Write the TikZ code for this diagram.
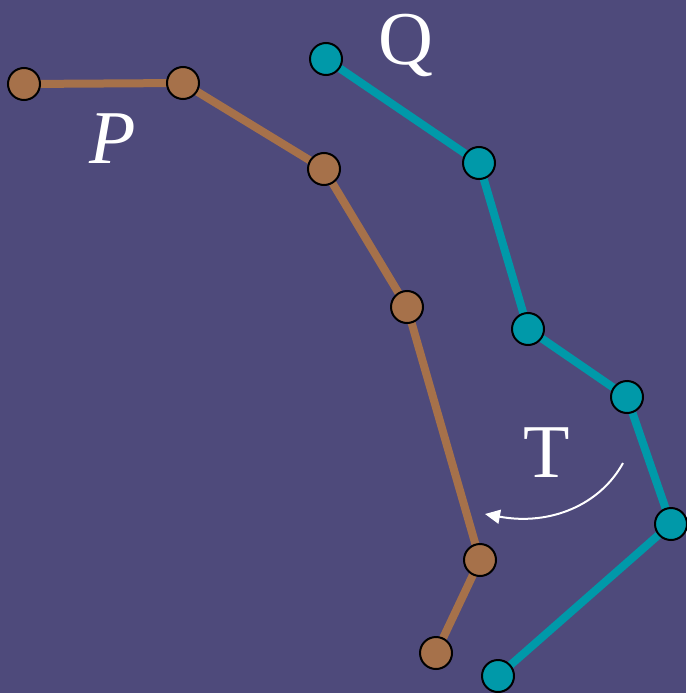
\documentclass[tikz,border=0pt]{standalone}
\usepackage{fontspec}
\setmainfont{Liberation Serif}
\usetikzlibrary{arrows.meta}
\definecolor{bg}{HTML}{4E4A7B}
\definecolor{brownc}{HTML}{A6714A}
\definecolor{tealc}{HTML}{0099A9}
\tikzset{
  pnode/.style={circle,draw=black,line width=2pt,fill=brownc,minimum size=32pt,inner sep=0pt},
  qnode/.style={circle,draw=black,line width=2pt,fill=tealc,minimum size=32pt,inner sep=0pt},
  pline/.style={draw=brownc,line width=8pt},
  qline/.style={draw=tealc,line width=8pt},
  lbl/.style={text=white,font=\fontsize{76}{80}\selectfont,inner sep=0pt}
}
\begin{document}
\begin{tikzpicture}[x=1pt,y=-1pt]
\fill[bg] (0,0) rectangle (686,693);
\useasboundingbox (0,0) rectangle (686,693);
\coordinate (p1c) at (24,84);
\coordinate (p2c) at (183,83);
\coordinate (p3c) at (324,169);
\coordinate (p4c) at (407,307);
\coordinate (p5c) at (480,560);
\coordinate (p6c) at (436,653);
\coordinate (q1c) at (326,59);
\coordinate (q2c) at (479,163);
\coordinate (q3c) at (528,329);
\coordinate (q4c) at (627,397);
\coordinate (q5c) at (671,524);
\coordinate (q6c) at (498,676);
\draw[pline] (p1c) -- (p2c) -- (p3c) -- (p4c) -- (p5c) -- (p6c);
\draw[qline] (q1c) -- (q2c) -- (q3c) -- (q4c) -- (q5c) -- (q6c);
\foreach \i in {1,...,6} {
  \node[pnode] (p\i) at (p\i c) {};
  \node[qnode] (q\i) at (q\i c) {};
}
\node[lbl] (lp) at (113,139) {\itshape P};
\node[lbl] (lq) at (406,46) {Q};
\node[lbl] (lt) at (547,453) {T};
\coordinate (as) at (623,463);
\coordinate (ae) at (485,514);
\draw[white,line width=2pt,-{Triangle[length=15pt,width=14pt]}] (as) .. controls (600,505) and (550,526) .. (ae);
\end{tikzpicture}
\end{document}
